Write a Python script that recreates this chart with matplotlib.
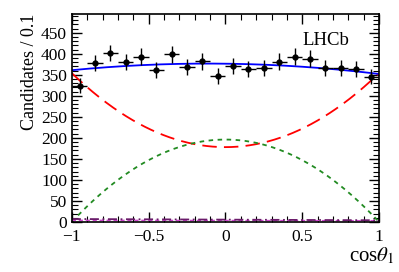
import numpy as np
import matplotlib
matplotlib.use("Agg")
import matplotlib.pyplot as plt
from matplotlib.ticker import MultipleLocator

plt.rcParams['font.family'] = ['Liberation Serif', 'DejaVu Serif']
plt.rcParams['mathtext.fontset'] = 'stix'

# data
bin_centers = [-0.95, -0.85, -0.75, -0.65, -0.55, -0.45, -0.35, -0.25, -0.15, -0.05,
               0.05, 0.15, 0.25, 0.35, 0.45, 0.55, 0.65, 0.75, 0.85, 0.95]
counts = [324, 378, 402, 380, 393, 362, 399, 369, 382, 348,
          372, 363, 366, 381, 393, 388, 366, 366, 364, 346]
errors = [18, 19, 20, 19, 20, 19, 20, 19, 20, 19,
          19, 19, 19, 20, 20, 20, 19, 19, 19, 19]

# fit component shape parameters
red_const, red_quad = 178, 176
green_amp = 196
purple_left, purple_right = 7, 4
magenta_left, magenta_right = 4, 3

x = np.linspace(-1, 1, 400)
red = red_const + red_quad * x**2
green = green_amp * (1 - x**2)
purple = purple_left + (purple_right - purple_left) * (x + 1) / 2
magenta = magenta_left + (magenta_right - magenta_left) * (x + 1) / 2
total = red + green + purple - 3 * x - 3

fig = plt.figure(figsize=(3.99, 2.72), dpi=100)
ax = fig.add_axes([0.180, 0.184, 0.770, 0.765])

ax.plot(x, red, color='red', ls=(0, (8, 4)), lw=1.3)
ax.plot(x, green, color='#228B22', ls=(0, (2.5, 2.5)), lw=1.3)
ax.plot(x, magenta, color='#cc44cc', ls=(0, (3, 2)), lw=1.0)
ax.plot(x, purple, color='#6a1b6a', ls=(0, (5, 2, 1, 2)), lw=1.3)
ax.plot(x, total, color='blue', lw=1.3)
ax.errorbar(bin_centers, counts, yerr=errors, xerr=0.05, fmt='o', color='black',
            ms=3.5, elinewidth=1.0, capsize=0)

ax.set_xlim(-1, 1)
ax.set_ylim(0, 495)
ax.xaxis.set_major_locator(MultipleLocator(0.5))
ax.xaxis.set_minor_locator(MultipleLocator(0.1))
ax.yaxis.set_major_locator(MultipleLocator(50))
ax.yaxis.set_minor_locator(MultipleLocator(10))
ax.tick_params(which='both', direction='in', top=True, right=True, labelsize=12.5)
ax.tick_params(which='major', length=7, width=1)
ax.tick_params(which='minor', length=4, width=0.8)
ax.tick_params(axis='x', pad=5)
ax.set_xticks([-1, -0.5, 0, 0.5, 1])
ax.set_xticklabels(['\u22121', '\u22120.5', '0', '0.5', '1'])
ax.set_yticks(range(0, 451, 50))
for s in ax.spines.values():
    s.set_linewidth(1.2)

ax.text(0.75, 0.85, 'LHCb', transform=ax.transAxes, fontsize=13.5)
ax.set_ylabel('Candidates / 0.1', fontsize=13, loc='top')
ax.yaxis.set_label_coords(-0.11, 1.0)
fig.text(0.99, 0.02, r'cos$\theta_1$', fontsize=15, ha='right', va='bottom')

fig.savefig('out.png', dpi=100)
